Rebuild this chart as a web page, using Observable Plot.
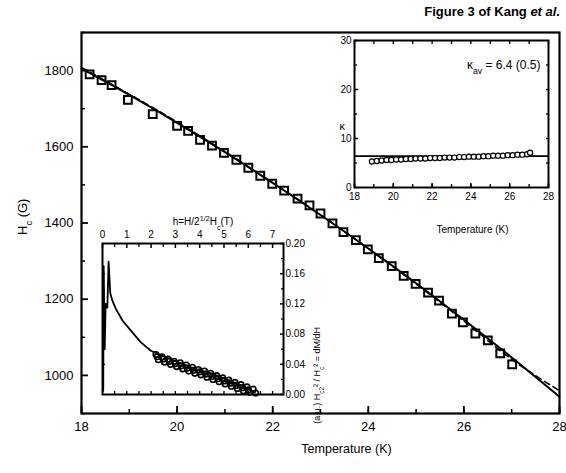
<!DOCTYPE html>
<html><head><meta charset="utf-8">
<script src="https://cdn.jsdelivr.net/npm/d3@7"></script>
<script src="https://cdn.jsdelivr.net/npm/@observablehq/plot@0.6"></script>
<style>
body{margin:0;background:#fff;font-family:"Liberation Sans",Arial,sans-serif;}
#wrap{position:relative;width:566px;height:473px;overflow:hidden;}
#wrap svg{position:absolute;}
#title{position:absolute;right:6px;top:4px;font-weight:bold;font-size:13px;font-family:"Liberation Sans",Arial,sans-serif;}
</style></head><body>
<div id="wrap"><div id="title">Figure 3 of Kang <i>et al.</i></div></div>
<script>
// ---------- main panel: Hc vs T ----------
const hcT = [18.17,18.42,18.63,18.97,19.49,20.0,20.23,20.48,20.73,20.98,21.24,21.49,21.74,21.99,22.24,22.52,22.77,23.0,23.25,23.48,23.74,23.99,24.22,24.49,24.74,24.99,25.25,25.48,25.75,25.98,26.24,26.5,26.76,27.01];
const hcVal = [1790,1775,1762,1723,1686,1655,1642,1618,1603,1584,1566,1545,1524,1503,1485,1464,1446,1425,1399,1376,1355,1331,1308,1287,1261,1240,1217,1196,1162,1139,1110,1092,1058,1029];
const fitT = [18,19,20,21,22,23,24,25,26,27,28];
const fitHc = [1805,1736,1663,1586,1505,1421,1333,1242,1146,1047,944];
const dashT = [18,20,22,24,26,27,28];
const dashHc = [1808,1665,1506,1333,1143,1042,960];
const mainXLabels = [18,20,22,24,26,28];
const mainXMinor = [18,19,20,21,22,23,24,25,26,27,28];
const mainYLabels = [1000,1200,1400,1600,1800];
const mainYMinor = [900,1100,1300,1500,1700,1900];

// ---------- upper-right inset: kappa vs T ----------
const kapT = [18.9,19.15,19.4,19.65,19.9,20.15,20.4,20.65,20.9,21.15,21.4,21.65,21.9,22.15,22.4,22.65,22.9,23.15,23.4,23.65,23.9,24.15,24.4,24.65,24.9,25.15,25.4,25.65,25.9,26.15,26.4,26.65,26.9,27.05];
const kapVal = [5.3,5.4,5.5,5.6,5.6,5.7,5.7,5.8,5.8,5.9,5.9,5.9,6.0,6.0,6.0,6.1,6.1,6.1,6.2,6.2,6.3,6.3,6.3,6.4,6.4,6.5,6.5,6.5,6.6,6.6,6.7,6.7,6.8,7.1];
const kapAv = 6.4;
const kapXLabels = [18,20,22,24,26,28];
const kapYLabels = [0,10,20,30];

// ---------- lower-left inset: dM/dh vs h ----------
const curveH = [0.03,0.05,0.09,0.13,0.2,0.25,0.32,0.4,0.54,0.82,1.16,1.58,1.99,2.41,3.1,3.79,4.48,5.17,5.85,6.27];
const curveV = [0.005,0.17,0.06,0.12,0.115,0.176,0.134,0.125,0.114,0.098,0.085,0.069,0.058,0.052,0.043,0.034,0.028,0.019,0.010,0.003];
const bandH = [2.2,2.45,2.7,2.95,3.2,3.45,3.7,3.95,4.2,4.45,4.7,4.95,5.2,5.45,5.7,5.95,6.2,
               2.3,2.55,2.8,3.05,3.3,3.55,3.8,4.05,4.3,4.55,4.8,5.05,5.3,5.55,5.8,6.05,6.3,
               2.25,2.5,2.75,3.0,3.25,3.5,3.75,4.0,4.25,4.5,4.75,5.0,5.25,5.5,5.75,6.0];
const bandV = [0.053,0.050,0.047,0.044,0.042,0.039,0.036,0.033,0.031,0.028,0.025,0.022,0.019,0.016,0.013,0.010,0.007,
               0.046,0.043,0.040,0.037,0.034,0.031,0.028,0.026,0.023,0.020,0.017,0.014,0.011,0.008,0.005,0.003,0.002,
               0.050,0.047,0.044,0.041,0.038,0.035,0.032,0.030,0.027,0.024,0.021,0.018,0.015,0.012,0.009,0.006];
const hLabels = [0,1,2,3,4,5,6,7];
const vLabels = [0,0.04,0.08,0.12,0.16,0.20];

const FONT = '"Liberation Sans", Arial, sans-serif';
const zip = (a, b) => a.map((v, i) => ({x: v, y: b[i]}));
const none = () => "";

function rich(svg, key, parts) {
  d3.select(svg).selectAll("text").filter(function(){ return this.textContent === key; }).each(function(){
    const t = d3.select(this); t.text(null);
    for (const p of parts) {
      const ts = t.append("tspan").text(p.t);
      if (p.sub) ts.attr("baseline-shift", "sub").attr("font-size", "72%");
      if (p.sup) ts.attr("baseline-shift", "super").attr("font-size", "72%");
    }
  });
}

const wrap = document.getElementById("wrap");

// main
const main = Plot.plot({
  width: 566, height: 473,
  marginLeft: 81, marginRight: 7, marginTop: 32, marginBottom: 60,
  style: {background: "transparent", fontFamily: FONT, fontSize: "13px", overflow: "visible"},
  x: {domain: [18, 28]},
  y: {domain: [900, 1900]},
  marks: [
    Plot.axisX(mainXMinor, {anchor: "bottom", label: null, tickSize: -4, tickFormat: none, strokeWidth: 1.5}),
    Plot.axisX(mainXLabels, {anchor: "bottom", label: null, tickSize: -7, tickPadding: 15, tickFormat: d3.format("d"), strokeWidth: 1.8}),
    Plot.axisY(mainYMinor, {anchor: "left", label: null, tickSize: -4, tickFormat: none, strokeWidth: 1.5}),
    Plot.axisY(mainYLabels, {anchor: "left", label: null, tickSize: -7, tickPadding: 15, tickFormat: d3.format("d"), strokeWidth: 1.8}),
    Plot.line(zip(dashT, dashHc), {x: "x", y: "y", stroke: "black", strokeWidth: 1.6, strokeDasharray: "6,4", curve: "monotone-x"}),
    Plot.line(zip(fitT, fitHc), {x: "x", y: "y", stroke: "black", strokeWidth: 2, curve: "monotone-x"}),
    Plot.dot(zip(hcT, hcVal), {x: "x", y: "y", symbol: "square", r: 4.4, stroke: "black", strokeWidth: 2, fill: "none"}),
    Plot.frame({stroke: "black", strokeWidth: 2.2}),
    Plot.text(["Temperature (K)"], {frameAnchor: "bottom", dy: 39, dx: 26, fontSize: 12.5}),
    Plot.text(["Hc (G)"], {frameAnchor: "left", rotate: -90, dx: -59, dy: 12, fontSize: 13})
  ]
});
main.style.left = "0px"; main.style.top = "0px";
wrap.appendChild(main);
rich(main, "Hc (G)", [{t: "H"}, {t: "c", sub: true}, {t: " (G)"}]);

// inset kappa
const ins1 = Plot.plot({
  width: 240, height: 215,
  marginLeft: 34, marginRight: 12, marginTop: 10, marginBottom: 58,
  style: {background: "transparent", fontFamily: FONT, fontSize: "10px", overflow: "visible"},
  x: {domain: [18, 28]},
  y: {domain: [0, 30]},
  marks: [
    Plot.frame({fill: "white", stroke: "none"}),
    Plot.axisX(mainXMinor, {anchor: "bottom", label: null, tickSize: -3, tickFormat: none, strokeWidth: 1.3}),
    Plot.axisX(kapXLabels, {anchor: "bottom", label: null, tickSize: -4, tickPadding: 9, tickFormat: d3.format("d"), strokeWidth: 1.5}),
    Plot.axisX(mainXMinor, {anchor: "top", label: null, tickSize: -3, tickFormat: none, strokeWidth: 1.3}),
    Plot.axisY([5, 15, 25], {anchor: "left", label: null, tickSize: -3, tickFormat: none, strokeWidth: 1.3}),
    Plot.axisY(kapYLabels, {anchor: "left", label: null, tickSize: -4, tickPadding: 7, tickFormat: d3.format("d"), strokeWidth: 1.5}),
    Plot.axisY([5, 10, 15, 20, 25], {anchor: "right", label: null, tickSize: -3, tickFormat: none, strokeWidth: 1.3}),
    Plot.ruleY([kapAv], {stroke: "black", strokeWidth: 1.6}),
    Plot.dot(zip(kapT, kapVal), {x: "x", y: "y", r: 2.6, stroke: "black", strokeWidth: 1.2, fill: "white"}),
    Plot.frame({stroke: "black", strokeWidth: 2}),
    Plot.text(["κav = 6.4 (0.5)"], {frameAnchor: "top-right", textAnchor: "end", dx: -8, dy: 20, fontSize: 12}),
    Plot.text(["κ"], {frameAnchor: "left", dx: -15, dy: 12, fontSize: 11}),
    Plot.text(["Temperature (K)"], {frameAnchor: "bottom", dx: 21, dy: 45, fontSize: 10})
  ]
});
ins1.style.left = "320px"; ins1.style.top = "30px";
wrap.appendChild(ins1);
rich(ins1, "κav = 6.4 (0.5)", [{t: "κ"}, {t: "av", sub: true}, {t: " = 6.4 (0.5)"}]);

// inset dM/dh
const ins2 = Plot.plot({
  width: 290, height: 210,
  marginLeft: 42, marginRight: 67, marginTop: 43, marginBottom: 16,
  style: {background: "transparent", fontFamily: FONT, fontSize: "10px", overflow: "visible"},
  x: {domain: [0, 7.45]},
  y: {domain: [0, 0.2]},
  marks: [
    Plot.frame({fill: "white", stroke: "none"}),
    Plot.axisX([0.5,1.5,2.5,3.5,4.5,5.5,6.5], {anchor: "top", label: null, tickSize: -3, tickFormat: none, strokeWidth: 1.3}),
    Plot.axisX(hLabels, {anchor: "top", label: null, tickSize: -4, tickPadding: 9.5, tickFormat: d3.format("d"), strokeWidth: 1.5}),
    Plot.axisX([0.5,1,1.5,2,2.5,3,3.5,4,4.5,5,5.5,6,6.5,7], {anchor: "bottom", label: null, tickSize: -3, tickFormat: none, strokeWidth: 1.3}),
    Plot.axisY([0.02,0.06,0.10,0.14,0.18], {anchor: "right", label: null, tickSize: -3, tickFormat: none, strokeWidth: 1.3}),
    Plot.axisY(vLabels, {anchor: "right", label: null, tickSize: -4, tickPadding: 6, tickFormat: d3.format(".2f"), strokeWidth: 1.5}),
    Plot.axisY([0.04,0.08,0.12,0.16], {anchor: "left", label: null, tickSize: -3, tickFormat: none, strokeWidth: 1.3}),
    Plot.line(zip(curveH, curveV), {x: "x", y: "y", stroke: "black", strokeWidth: 1.8}),
    Plot.dot(zip(bandH, bandV), {x: "x", y: "y", r: 2.8, stroke: "black", strokeWidth: 1.6, fill: "none"}),
    Plot.frame({stroke: "black", strokeWidth: 2}),
    Plot.text(["h=H/2^1/2Hc(T)"], {frameAnchor: "top", dx: 10, dy: -26, fontSize: 10}),
    Plot.text(["(a.u.) Hc2² / Hc² = dM/dH"], {frameAnchor: "right", rotate: -90, dx: 34, dy: 8, fontSize: 9})
  ]
});
ins2.style.left = "60px"; ins2.style.top = "200px";
wrap.appendChild(ins2);
rich(ins2, "h=H/2^1/2Hc(T)", [{t: "h=H/2"}, {t: "1/2", sup: true}, {t: "H"}, {t: "c", sub: true}, {t: "(T)"}]);
rich(ins2, "(a.u.) Hc2² / Hc² = dM/dH", [{t: "(a.u.) H"}, {t: "c2", sub: true}, {t: "² / H"}, {t: "c", sub: true}, {t: "² = dM/dH"}]);
</script>
</body></html>
